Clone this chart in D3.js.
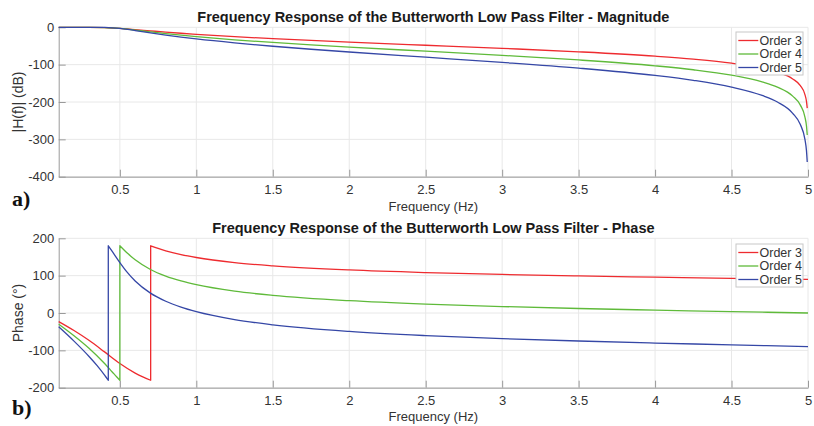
<!DOCTYPE html>
<html>
<head>
<meta charset="utf-8">
<script src="https://cdn.jsdelivr.net/npm/d3@7"></script>
<style>
  html, body { margin: 0; padding: 0; background: #fff; }
  svg { display: block; }
</style>
</head>
<body>
<svg id="chart" width="814" height="426"></svg>
<script>
// ---- Data ---------------------------------------------------------------
const seriesNames = ["Order 3", "Order 4", "Order 5"];

// Magnitude response (dB) sampled against frequency (Hz)
const magFreq = [0.1, 0.2, 0.3, 0.4, 0.45, 0.5, 0.55, 0.6, 0.7, 0.8, 0.9, 1.0,
  1.25, 1.5, 1.75, 2, 2.5, 3, 3.5, 4, 4.25, 4.5, 4.7, 4.8, 4.9, 4.95, 4.98, 4.99, 4.995];
const magOrder3 = [0, -0.02, -0.19, -1.0, -1.84, -3.01, -4.46, -6.08, -9.5, -12.83, -15.92, -18.78,
  -25.07, -30.45, -35.26, -39.69, -48.02, -56.34, -65.59, -77.31, -85.2, -96.04, -109.49, -120.09,
  -138.18, -156.25, -180.13, -198.19, -216.25];
const magOrder4 = [0, 0, -0.07, -0.66, -1.54, -3.01, -5.02, -7.35, -12.25, -16.89, -21.11, -24.98,
  -33.4, -40.6, -47.01, -52.93, -64.02, -75.12, -87.45, -103.08, -113.6, -128.05, -145.98, -160.12,
  -184.24, -208.33, -240.17, -264.25, -288.33];
const magOrder5 = [0, 0, -0.03, -0.43, -1.28, -3.01, -5.61, -8.71, -15.11, -21.0, -26.35, -31.21,
  -41.75, -50.75, -58.76, -66.16, -80.03, -93.9, -109.32, -128.85, -142.0, -160.06, -182.48, -200.16,
  -230.3, -260.42, -300.21, -330.32, -360.42];

// Phase response (degrees); a repeated frequency marks the wrap from -180 to +180
const phaseFreq3 = [0.1, 0.2, 0.3, 0.4, 0.5, 0.6, 0.65, 0.7014, 0.7014, 0.75, 0.8, 0.9, 1.0,
  1.25, 1.5, 2, 2.5, 3, 3.5, 4, 4.5, 5];
const phaseOrder3 = [-22.9, -46.9, -73.7, -104.1, -135, -160.8, -171.1, -180, 180, 172.9, 166.5, 156.4, 148.6,
  135.0, 126.3, 115.2, 108.2, 103.2, 99.3, 95.9, 92.9, 90];
const phaseFreq4 = [0.1, 0.2, 0.3, 0.4, 0.45, 0.48, 0.5, 0.5, 0.55, 0.6, 0.7, 0.8, 0.9, 1.0,
  1.25, 1.5, 2, 2.5, 3, 3.5, 4, 4.5, 5];
const phaseOrder4 = [-29.9, -60.9, -95.1, -135.3, -157.8, -171.3, -180, 180, 159.7, 142.5, 116.6, 98.8, 85.8, 75.8,
  58.5, 47.2, 32.9, 23.8, 17.3, 12.1, 7.7, 3.8, 0];
const phaseFreq5 = [0.1, 0.2, 0.3, 0.35, 0.4, 0.41, 0.42, 0.4243, 0.4243, 0.45, 0.5, 0.55, 0.6, 0.7, 0.8, 0.9, 1.0,
  1.25, 1.5, 2, 2.5, 3, 3.5, 4, 4.5, 5];
const phaseOrder5 = [-37.0, -75.3, -117.0, -140.3, -166.4, -172.0, -177.7, -180, 180, 164.7, 135, 107.9, 85.5, 53.1, 31.4, 15.7, 3.5,
  -17.7, -31.6, -49.3, -60.5, -68.6, -75.0, -80.5, -85.3, -90];

// Axis ticks
const freqTicks = [0.5, 1, 1.5, 2, 2.5, 3, 3.5, 4, 4.5, 5];
const magTicks = [0, -100, -200, -300, -400];
const phaseTicks = [200, 100, 0, -100, -200];

// ---- Drawing ------------------------------------------------------------
const colors = ["#ee2b2f", "#5fba3a", "#3547a6"];
const axisColor = "#9a9a9a";
const textColor = "#333333";
const gridColor = "#e8e8e8";
const font = "'Liberation Sans', Arial, sans-serif";

const svg = d3.select("#chart");
const x = d3.scaleLinear().domain([0.1, 5]).range([58.7, 808]);

function zip(fs, vs) { return fs.map((f, i) => ({ f, v: vs[i] })); }

// Builds one continuous path; a repeated x starts a new smooth piece joined by a straight segment
function pathFor(points, y) {
  const line = d3.line().x(d => x(d.f)).y(d => y(d.v)).curve(d3.curveMonotoneX);
  const pieces = [[]];
  points.forEach((p, i) => {
    if (i > 0 && p.f === points[i - 1].f) pieces.push([]);
    pieces[pieces.length - 1].push(p);
  });
  return pieces.map((pc, i) => {
    const d = pc.length > 1 ? line(pc) : `M${x(pc[0].f)},${y(pc[0].v)}`;
    return i === 0 ? d : d.replace(/^M/, "L");
  }).join("");
}

function panel(opts) {
  const { yDomain, yTop, yBottom, yTicks, title, yLabel, series, legendY, tag, tagY, titleY, xLabelY } = opts;
  const y = d3.scaleLinear().domain(yDomain).range([yBottom, yTop]);
  const g = svg.append("g");

  // grid
  g.append("g").selectAll("line.vx").data(freqTicks).join("line")
    .attr("x1", d => x(d)).attr("x2", d => x(d)).attr("y1", yTop).attr("y2", yBottom)
    .attr("stroke", gridColor).attr("stroke-width", 1);
  g.append("g").selectAll("line.hy").data(yTicks).join("line")
    .attr("x1", x.range()[0]).attr("x2", x.range()[1]).attr("y1", d => y(d)).attr("y2", d => y(d))
    .attr("stroke", gridColor).attr("stroke-width", 1);

  // axes
  const fmt = d => String(d);
  const xAxis = g.append("g").attr("transform", `translate(0,${yBottom})`)
    .call(d3.axisBottom(x).tickValues(freqTicks).tickFormat(fmt).tickSizeInner(-7).tickSizeOuter(0));
  xAxis.selectAll("text").attr("y", 17.6).attr("dy", null);
  const yAxis = g.append("g").attr("transform", `translate(${x.range()[0]},0)`)
    .call(d3.axisLeft(y).tickValues(yTicks).tickFormat(fmt).tickSizeInner(-7).tickSizeOuter(0).tickPadding(4.5));
  [xAxis, yAxis].forEach(a => {
    a.select(".domain").attr("stroke", axisColor);
    a.selectAll(".tick line").attr("stroke", axisColor);
    a.selectAll("text").attr("fill", textColor).style("font-family", font).style("font-size", "13px");
  });

  // curves
  series.forEach((s, i) => {
    g.append("path").attr("d", pathFor(s, y))
      .attr("fill", "none").attr("stroke", colors[i]).attr("stroke-width", 1.3)
      .attr("stroke-linejoin", "round");
  });

  // title and axis labels
  const cx = (x.range()[0] + x.range()[1]) / 2;
  g.append("text").attr("x", cx).attr("y", titleY).attr("text-anchor", "middle")
    .style("font-family", font).style("font-size", "14.5px").style("font-weight", "bold")
    .attr("fill", "#1a1a1a").text(title);
  g.append("text").attr("x", cx).attr("y", xLabelY).attr("text-anchor", "middle")
    .style("font-family", font).style("font-size", "13px").attr("fill", textColor).text("Frequency (Hz)");
  g.append("text").attr("transform", `translate(23,${(yTop + yBottom) / 2}) rotate(-90)`)
    .attr("text-anchor", "middle").style("font-family", font).style("font-size", "14px")
    .attr("fill", textColor).text(yLabel);

  // legend
  const lg = g.append("g").attr("transform", `translate(736,${legendY})`);
  lg.append("rect").attr("width", 67).attr("height", 43).attr("fill", "#fff")
    .attr("stroke", "#c8c8c8").attr("stroke-width", 1);
  seriesNames.forEach((name, i) => {
    const ry = 8.5 + i * 13.5;
    lg.append("line").attr("x1", 2.3).attr("x2", 22.3).attr("y1", ry).attr("y2", ry)
      .attr("stroke", colors[i]).attr("stroke-width", 1.3);
    lg.append("text").attr("x", 23.5).attr("y", ry).attr("dy", "0.35em")
      .style("font-family", font).style("font-size", "12.5px").attr("fill", textColor).text(name);
  });

  // panel tag
  svg.append("text").attr("x", 12).attr("y", tagY)
    .style("font-family", "'Liberation Serif', 'DejaVu Serif', serif").style("font-size", "22px")
    .style("font-weight", "bold").attr("fill", "#111").text(tag);
}

panel({
  yDomain: [-400, 0], yTop: 27.3, yBottom: 176.7, yTicks: magTicks,
  title: "Frequency Response of the Butterworth Low Pass Filter - Magnitude",
  yLabel: "|H(f)| (dB)",
  series: [zip(magFreq, magOrder3), zip(magFreq, magOrder4), zip(magFreq, magOrder5)],
  legendY: 32, tag: "a)", tagY: 206, titleY: 22, xLabelY: 210.5
});

panel({
  yDomain: [-200, 200], yTop: 238.3, yBottom: 387.7, yTicks: phaseTicks,
  title: "Frequency Response of the Butterworth Low Pass Filter - Phase",
  yLabel: "Phase (°)",
  series: [zip(phaseFreq3, phaseOrder3), zip(phaseFreq4, phaseOrder4), zip(phaseFreq5, phaseOrder5)],
  legendY: 244, tag: "b)", tagY: 415, titleY: 232.5, xLabelY: 420.5
});
</script>
</body>
</html>
